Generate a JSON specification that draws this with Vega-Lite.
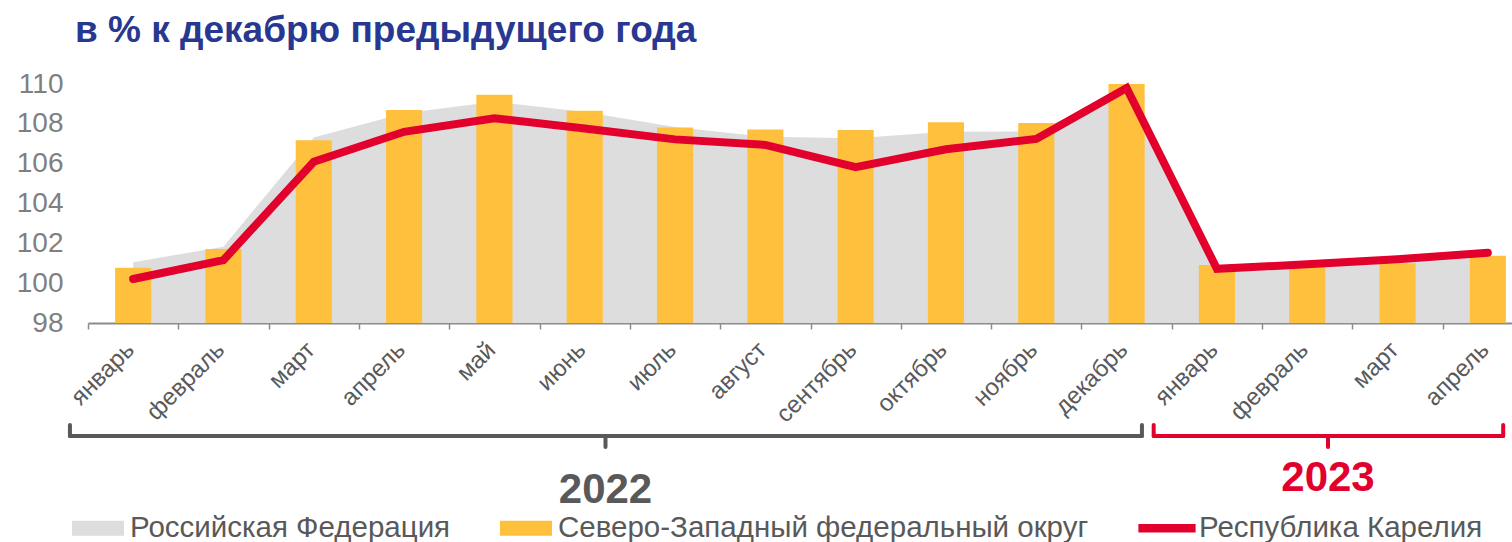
{
  "$schema": "https://vega.github.io/schema/vega-lite/v6.json",
  "autosize": {"type": "none"},
  "padding": {"left": 88, "top": 84, "right": 0, "bottom": 219},
  "width": 1424,
  "height": 239,
  "background": "white",
  "config": {
    "view": {"stroke": null},
    "font": "Liberation Sans",
    "axisY": {"labelOverlap": false, "labelSeparation": 0},
    "axisQuantitative": {"labelOverlap": false},
    "legend": {
      "orient": "none",
      "legendX": -16,
      "legendY": 418,
      "direction": "horizontal",
      "labelFontSize": 29.5,
      "labelColor": "#595959",
      "labelFont": "Liberation Sans",
      "symbolSize": 2704,
      "columnPadding": 49,
      "labelOffset": 6,
      "labelLimit": 800,
      "title": null
    }
  },
  "title": {
    "text": "в % к декабрю предыдущего года",
    "anchor": "start",
    "frame": "group",
    "fontSize": 37,
    "fontWeight": "bold",
    "font": "Liberation Sans",
    "color": "#283891",
    "dx": -13,
    "offset": -9,
    "baseline": "alphabetic"
  },
  "datasets": {
    "months": [
      {"key": "январь 2022", "rf": 101.05, "szfo": 100.78, "kar": 100.21},
      {"key": "февраль 2022", "rf": 101.83, "szfo": 101.71, "kar": 101.16},
      {"key": "март 2022", "rf": 107.32, "szfo": 107.17, "kar": 106.10},
      {"key": "апрель 2022", "rf": 108.53, "szfo": 108.69, "kar": 107.60},
      {"key": "май 2022", "rf": 109.11, "szfo": 109.46, "kar": 108.28},
      {"key": "июнь 2022", "rf": 108.60, "szfo": 108.66, "kar": 107.77},
      {"key": "июль 2022", "rf": 107.84, "szfo": 107.82, "kar": 107.22},
      {"key": "август 2022", "rf": 107.35, "szfo": 107.71, "kar": 106.94},
      {"key": "сентябрь 2022", "rf": 107.27, "szfo": 107.69, "kar": 105.82},
      {"key": "октябрь 2022", "rf": 107.60, "szfo": 108.08, "kar": 106.72},
      {"key": "ноябрь 2022", "rf": 107.62, "szfo": 108.04, "kar": 107.24},
      {"key": "декабрь 2022", "rf": 109.70, "szfo": 110.00, "kar": 109.80},
      {"key": "январь 2023", "rf": 100.84, "szfo": 100.91, "kar": 100.72},
      {"key": "февраль 2023", "rf": 101.00, "szfo": 100.90, "kar": 100.95},
      {"key": "март 2023", "rf": 101.22, "szfo": 101.00, "kar": 101.20},
      {"key": "апрель 2023", "rf": 101.50, "szfo": 101.38, "kar": 101.53}
    ],
    "years": [
      {"year": "2022", "first": "январь 2022", "last": "декабрь 2022", "mid": "июль 2022"},
      {"year": "2023", "first": "январь 2023", "last": "апрель 2023", "mid": "март 2023"}
    ]
  },
  "data": {"name": "months"},
  "encoding": {
    "x": {
      "field": "key",
      "type": "nominal",
      "scale": {
        "domain": ["январь 2022", "февраль 2022", "март 2022", "апрель 2022", "май 2022", "июнь 2022", "июль 2022", "август 2022", "сентябрь 2022", "октябрь 2022", "ноябрь 2022", "декабрь 2022", "январь 2023", "февраль 2023", "март 2023", "апрель 2023"],
        "range": [0, 1445],
        "paddingInner": 0,
        "paddingOuter": 0
      },
      "axis": {
        "title": null,
        "labelAngle": -45,
        "labelAlign": "right",
        "labelBaseline": "middle",
        "labelFontSize": 24,
        "labelColor": "#595959",
        "labelFont": "Liberation Sans",
        "labelPadding": 17,
        "labelOffset": -3,
        "labelOverlap": false,
        "labelBound": false,
        "labelExpr": "datum.value ? split(datum.value, ' ')[0] : ''",
        "domainColor": "#8C8C8C",
        "domainWidth": 2,
        "tickColor": "#8C8C8C",
        "tickSize": 6,
        "tickWidth": 1.5,
        "tickBand": "extent",
        "grid": false
      }
    }
  },
  "layer": [
    {
      "mark": {"type": "area", "clip": true},
      "encoding": {
        "y": {
          "field": "rf",
          "type": "quantitative",
          "scale": {"domain": [98, 110], "zero": false, "nice": false},
          "axis": {
            "title": null,
            "values": [98, 100, 102, 104, 106, 108, 110],
            "tickCount": 7,
            "grid": false,
            "domain": false,
            "ticks": false,
            "labelOverlap": false,
            "labelFontSize": 28,
            "labelColor": "#7F7F7F",
            "labelFont": "Liberation Sans",
            "labelPadding": 25
          }
        },
        "y2": {"datum": 98},
        "color": {
          "datum": "Российская Федерация",
          "type": "nominal",
          "scale": {
            "domain": ["Российская Федерация", "Северо-Западный федеральный округ", "Республика Карелия"],
            "range": ["#DDDDDD", "#FFC13D", "#E2002D"]
          },
          "legend": {
            "encode": {
              "symbols": {
                "update": {
                  "shape": {"signal": "datum.value === 'Республика Карелия' ? 'M-1.1,-0.16H1.1V0.16H-1.1Z' : 'M-1,-0.29H1V0.29H-1Z'"},
                  "fill": {"scale": "color", "field": "value"},
                  "strokeWidth": {"value": 0}
                }
              }
            }
          }
        }
      }
    },
    {
      "mark": {"type": "bar", "width": {"band": 0.4}},
      "encoding": {
        "y": {"field": "szfo", "type": "quantitative"},
        "y2": {"datum": 98},
        "color": {"datum": "Северо-Западный федеральный округ", "type": "nominal"}
      }
    },
    {
      "mark": {"type": "line", "strokeWidth": 8, "strokeCap": "round", "strokeJoin": "miter"},
      "encoding": {
        "y": {"field": "kar", "type": "quantitative"},
        "color": {"datum": "Республика Карелия", "type": "nominal"}
      }
    },
    {
      "data": {"name": "years"},
      "mark": {"type": "rule", "strokeWidth": 4, "strokeCap": "round", "yOffset": 113},
      "encoding": {
        "x": {"field": "first", "type": "nominal", "bandPosition": -0.2},
        "x2": {"field": "last", "bandPosition": 0.67},
        "y": {"datum": 98},
        "stroke": {"field": "year", "type": "nominal", "scale": {"domain": ["2022", "2023"], "range": ["#595959", "#E2002D"]}, "legend": null}
      }
    },
    {
      "data": {"name": "years"},
      "mark": {"type": "rule", "strokeWidth": 4, "strokeCap": "round", "yOffset": 102, "y2Offset": 113},
      "encoding": {
        "x": {"field": "first", "type": "nominal", "bandPosition": -0.2},
        "y": {"datum": 98},
        "y2": {"datum": 98},
        "stroke": {"field": "year", "type": "nominal", "legend": null}
      }
    },
    {
      "data": {"name": "years"},
      "mark": {"type": "rule", "strokeWidth": 4, "strokeCap": "round", "yOffset": 102, "y2Offset": 113},
      "encoding": {
        "x": {"field": "last", "type": "nominal", "bandPosition": 0.67},
        "y": {"datum": 98},
        "y2": {"datum": 98},
        "stroke": {"field": "year", "type": "nominal", "legend": null}
      }
    },
    {
      "data": {"name": "years"},
      "mark": {"type": "rule", "strokeWidth": 4, "strokeCap": "round", "yOffset": 113, "y2Offset": 124},
      "encoding": {
        "x": {"field": "mid", "type": "nominal", "bandPosition": -0.27},
        "y": {"datum": 98},
        "y2": {"datum": 98},
        "stroke": {"field": "year", "type": "nominal", "legend": null}
      }
    },
    {
      "data": {"name": "years"},
      "transform": [{"filter": "datum.year === '2022'"}],
      "mark": {"type": "text", "fontSize": 42, "fontWeight": "bold", "font": "Liberation Sans", "color": "#595959", "baseline": "middle", "align": "center", "yOffset": 167},
      "encoding": {
        "x": {"field": "mid", "type": "nominal", "bandPosition": -0.27},
        "y": {"datum": 98},
        "text": {"field": "year"}
      }
    },
    {
      "data": {"name": "years"},
      "transform": [{"filter": "datum.year === '2023'"}],
      "mark": {"type": "text", "fontSize": 42, "fontWeight": "bold", "font": "Liberation Sans", "color": "#E2002D", "baseline": "middle", "align": "center", "yOffset": 155},
      "encoding": {
        "x": {"field": "mid", "type": "nominal", "bandPosition": -0.27},
        "y": {"datum": 98},
        "text": {"field": "year"}
      }
    }
  ]
}
